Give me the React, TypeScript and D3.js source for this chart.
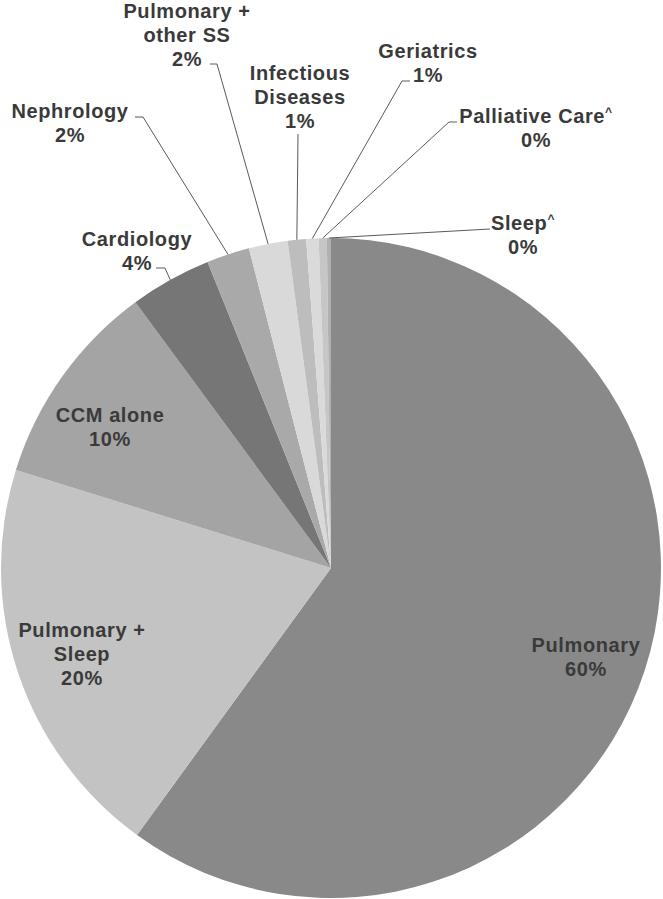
import React from "react";
import * as d3 from "d3";

const categories = [
  "Pulmonary",
  "Pulmonary + Sleep",
  "CCM alone",
  "Cardiology",
  "Nephrology",
  "Pulmonary + other SS",
  "Infectious Diseases",
  "Geriatrics",
  "Palliative Care^",
  "Sleep^",
];
const shares = [60.0, 19.8, 10.1, 4.0, 2.1, 1.9, 0.9, 0.6, 0.4, 0.2];
const pctLabels = ["60%", "20%", "10%", "4%", "2%", "2%", "1%", "1%", "0%", "0%"];
const labelLines = [
  ["Pulmonary"],
  ["Pulmonary +", "Sleep"],
  ["CCM alone"],
  ["Cardiology"],
  ["Nephrology"],
  ["Pulmonary +", "other SS"],
  ["Infectious", "Diseases"],
  ["Geriatrics"],
  ["Palliative Care^"],
  ["Sleep^"],
];
const sliceColors = [
  "#898989",
  "#c3c3c3",
  "#a4a4a4",
  "#767676",
  "#a9a9a9",
  "#d9d9d9",
  "#bdbdbd",
  "#dadada",
  "#c6c6c6",
  "#b0b0b0",
];

// layout (label center x, first baseline y, optional leader start/elbow)
type Lay = { x: number; y: number; lead?: { x0: number; y0: number; x1: number; y1: number } };
const labelLayout: Lay[] = [
  { x: 586, y: 652 },
  { x: 82, y: 637 },
  { x: 110, y: 422 },
  { x: 137, y: 246, lead: { x0: 156, y0: 268, x1: 165, y1: 268 } },
  { x: 70, y: 118, lead: { x0: 135, y0: 117, x1: 143, y1: 117 } },
  { x: 187, y: 18, lead: { x0: 210, y0: 64, x1: 217, y1: 64 } },
  { x: 300, y: 80, lead: { x0: 298, y0: 134, x1: 298, y1: 134 } },
  { x: 428, y: 58, lead: { x0: 410, y0: 81, x1: 402, y1: 81 } },
  { x: 536, y: 123, lead: { x0: 457, y0: 122, x1: 449, y1: 122 } },
  { x: 523, y: 230, lead: { x0: 490, y0: 229, x1: 490, y1: 229 } },
];

const W = 663;
const H = 899;
const CX = 331;
const CY = 568;
const R = 330;

function renderLine(ln: string) {
  if (ln.endsWith("^")) {
    return (
      <>
        {ln.slice(0, -1)}
        <tspan fontSize={12} dy={-7}>
          ^
        </tspan>
      </>
    );
  }
  return ln;
}

export default function App() {
  const pie = d3
    .pie<number>()
    .sort(null)
    .value((d) => d)
    .startAngle(0)
    .endAngle(2 * Math.PI);
  const arcs = pie(shares);
  const arc = d3.arc<d3.PieArcDatum<number>>().innerRadius(0).outerRadius(R);
  const edgeArc = d3.arc<d3.PieArcDatum<number>>().innerRadius(R).outerRadius(R);

  return (
    <div style={{ position: "absolute", left: 0, top: 0 }}>
      <svg width={W} height={H} style={{ display: "block", background: "#fff" }}>
        <g transform={`translate(${CX},${CY})`}>
          {arcs.map((a, i) => (
            <path key={i} d={arc(a) || ""} fill={sliceColors[i]} />
          ))}
        </g>
        {arcs.map((a, i) => {
          const L = labelLayout[i];
          if (!L.lead) return null;
          const c = edgeArc.centroid(a);
          const ex = CX + c[0];
          const ey = CY + c[1];
          return (
            <polyline
              key={"l" + i}
              points={`${L.lead.x0},${L.lead.y0} ${L.lead.x1},${L.lead.y1} ${ex},${ey}`}
              fill="none"
              stroke="#5a5a5a"
              strokeWidth={1}
            />
          );
        })}
        {categories.map((c, i) => {
          const L = labelLayout[i];
          const lines = [...labelLines[i], pctLabels[i]];
          return (
            <text
              key={"t" + c}
              x={L.x}
              y={L.y}
              textAnchor="middle"
              fontFamily="'Liberation Sans', Arial, sans-serif"
              fontWeight="bold"
              fontSize={20}
              letterSpacing={0.6}
              fill="#3a3a3a"
            >
              {lines.map((ln, j) => (
                <tspan key={j} x={L.x} y={L.y + j * 24}>
                  {renderLine(ln)}
                </tspan>
              ))}
            </text>
          );
        })}
      </svg>
    </div>
  );
}
